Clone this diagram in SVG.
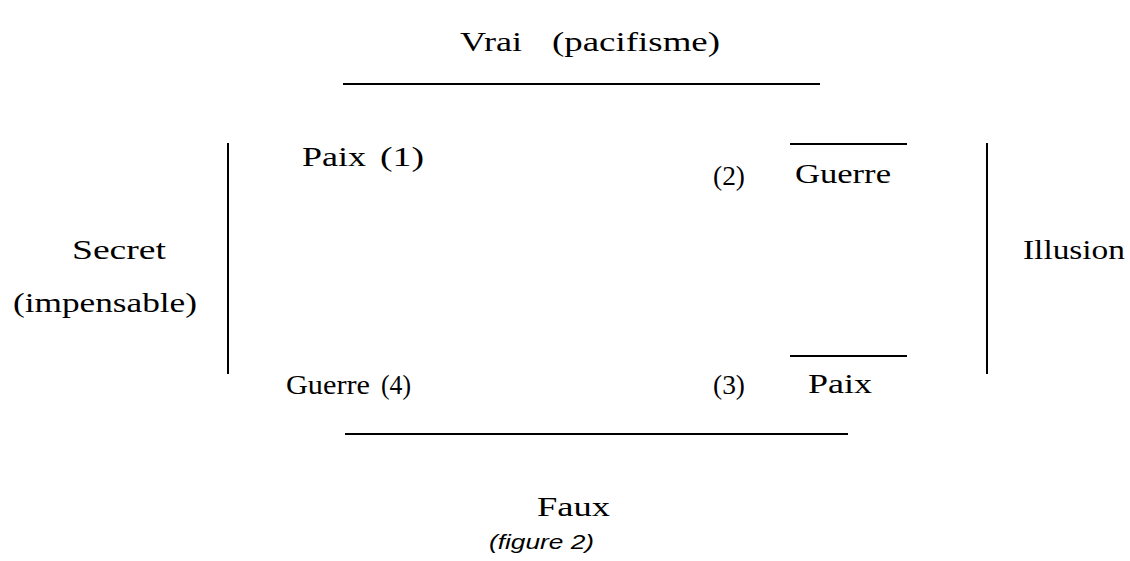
<svg xmlns="http://www.w3.org/2000/svg" width="1130" height="561" viewBox="0 0 1130 561">
<style>
.t{font-family:"Liberation Serif","Times New Roman",serif;font-size:28px;fill:#000}
.c{font-family:"Liberation Sans",Arial,sans-serif;font-size:21px;font-style:italic;fill:#000}
.l{stroke:#000;stroke-width:2;fill:none}
</style>
<rect width="1130" height="561" fill="#fff"/>
<g id="connectors">
<line class="l" x1="343" y1="84" x2="820" y2="84"/>
<line class="l" x1="345" y1="434" x2="848" y2="434"/>
<line class="l" x1="228" y1="143" x2="228" y2="374"/>
<line class="l" x1="987" y1="143" x2="987" y2="374"/>
</g>
<g id="vrai">
<text class="t" x="460" y="51" textLength="62" lengthAdjust="spacingAndGlyphs">Vrai</text>
<text class="t" x="552" y="51" textLength="168" lengthAdjust="spacingAndGlyphs">(pacifisme)</text>
</g>
<g id="paix1">
<text class="t" x="302" y="166" textLength="64" lengthAdjust="spacingAndGlyphs">Paix</text>
<text class="t" x="380" y="166" textLength="44" lengthAdjust="spacingAndGlyphs">(1)</text>
</g>
<g id="guerre2">
<text class="t" x="713" y="185" textLength="32" lengthAdjust="spacingAndGlyphs">(2)</text>
<line class="l" x1="790" y1="144" x2="907" y2="144"/>
<text class="t" x="795" y="183" textLength="96" lengthAdjust="spacingAndGlyphs">Guerre</text>
</g>
<g id="secret">
<text class="t" x="72" y="259" textLength="94" lengthAdjust="spacingAndGlyphs">Secret</text>
<text class="t" x="13" y="312" textLength="184" lengthAdjust="spacingAndGlyphs">(impensable)</text>
</g>
<g id="illusion"><text class="t" x="1023" y="259" textLength="102" lengthAdjust="spacingAndGlyphs">Illusion</text></g>
<g id="guerre4">
<text class="t" x="286" y="394" textLength="84" lengthAdjust="spacingAndGlyphs">Guerre</text>
<text class="t" x="381" y="394" textLength="30" lengthAdjust="spacingAndGlyphs">(4)</text>
</g>
<g id="paix3">
<text class="t" x="713" y="394" textLength="32" lengthAdjust="spacingAndGlyphs">(3)</text>
<line class="l" x1="790" y1="356" x2="907" y2="356"/>
<text class="t" x="808" y="393" textLength="64" lengthAdjust="spacingAndGlyphs">Paix</text>
</g>
<g id="faux"><text class="t" x="537" y="516" textLength="73" lengthAdjust="spacingAndGlyphs">Faux</text></g>
<g id="caption"><text class="c" x="489" y="549" textLength="105" lengthAdjust="spacingAndGlyphs">(figure 2)</text></g>
</svg>
